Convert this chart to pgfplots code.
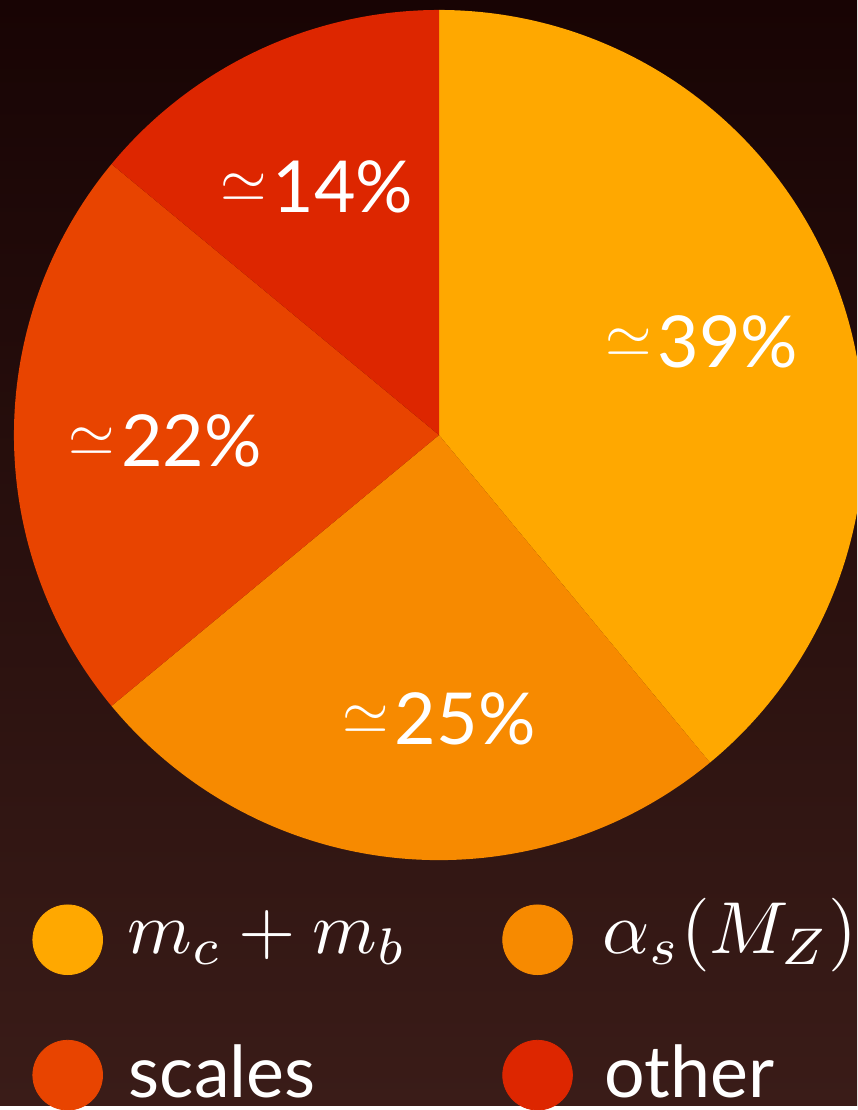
\documentclass[border=0pt]{standalone}
\usepackage{graphicx}
\usepackage{pgfplots}
\pgfplotsset{compat=1.18}
\usepackage{fontspec}
\setmainfont{Lato}
\definecolor{cA}{HTML}{FFA800}
\definecolor{cB}{HTML}{F78A00}
\definecolor{cC}{HTML}{E84400}
\definecolor{cD}{HTML}{DD2600}
\definecolor{bgTop}{HTML}{180404}
\definecolor{bgBot}{HTML}{3A1C18}
\newcommand{\apx}{\raisebox{5.5pt}{\scalebox{3.0}{\normalsize$\simeq$}}\kern3pt}
% shares in percent
\def\pA{39}\def\pB{25}\def\pC{22}\def\pD{14}
\begin{document}
\begin{tikzpicture}
\pgfmathsetmacro{\aA}{90-3.6*\pA}
\pgfmathsetmacro{\aB}{\aA-3.6*\pB}
\pgfmathsetmacro{\aC}{\aB-3.6*\pC}
\pgfmathsetmacro{\aD}{\aC-3.6*\pD}
\begin{axis}[
  scale only axis, width=430.5pt, height=555pt,
  xmin=0, xmax=861, ymin=0, ymax=1110,
  hide axis, clip=true,
]
\path[top color=bgTop, bottom color=bgBot] (rel axis cs:0,0) rectangle (rel axis cs:1,1);
\addplot[fill=cA, draw=none, domain=\aA:90, samples=150] ({441+427*cos(x)}, {673+427*sin(x)}) -- (axis cs:441,673) -- cycle;
\addplot[fill=cB, draw=none, domain=\aB:\aA, samples=100] ({441+427*cos(x)}, {673+427*sin(x)}) -- (axis cs:441,673) -- cycle;
\addplot[fill=cC, draw=none, domain=\aC:\aB, samples=100] ({441+427*cos(x)}, {673+427*sin(x)}) -- (axis cs:441,673) -- cycle;
\addplot[fill=cD, draw=none, domain=\aD:\aC, samples=80] ({441+427*cos(x)}, {673+427*sin(x)}) -- (axis cs:441,673) -- cycle;
\node[text=white, font=\fontsize{36}{40}\selectfont] at (axis cs:705,767) {\apx\pA\%};
\node[text=white, font=\fontsize{36}{40}\selectfont] at (axis cs:441,388) {\apx\pB\%};
\node[text=white, font=\fontsize{36}{40}\selectfont] at (axis cs:166,667) {\apx\pC\%};
\node[text=white, font=\fontsize{36}{40}\selectfont] at (axis cs:318,922) {\apx\pD\%};
% legend
\addplot[cA, only marks, mark=*, mark size=17.5pt, mark options={fill=cA, draw=cA}] coordinates {(68,166)};
\addplot[cB, only marks, mark=*, mark size=17.5pt, mark options={fill=cB, draw=cB}] coordinates {(540,166)};
\addplot[cC, only marks, mark=*, mark size=17.5pt, mark options={fill=cC, draw=cC}] coordinates {(68,30)};
\addplot[cD, only marks, mark=*, mark size=17.5pt, mark options={fill=cD, draw=cD}] coordinates {(540,30)};
\node[text=white, anchor=base west, inner sep=0pt] at (axis cs:128,152) {\scalebox{3.7}{$m_c+m_b$}};
\node[text=white, anchor=base west, inner sep=0pt] at (axis cs:605,152) {\scalebox{3.7}{$\alpha_s(M_Z)$}};
\node[text=white, anchor=base west, inner sep=0pt, font=\fontsize{36}{40}\selectfont] at (axis cs:129,8) {scales};
\node[text=white, anchor=base west, inner sep=0pt, font=\fontsize{36}{40}\selectfont] at (axis cs:607,8) {other};
\end{axis}
\end{tikzpicture}
\end{document}
